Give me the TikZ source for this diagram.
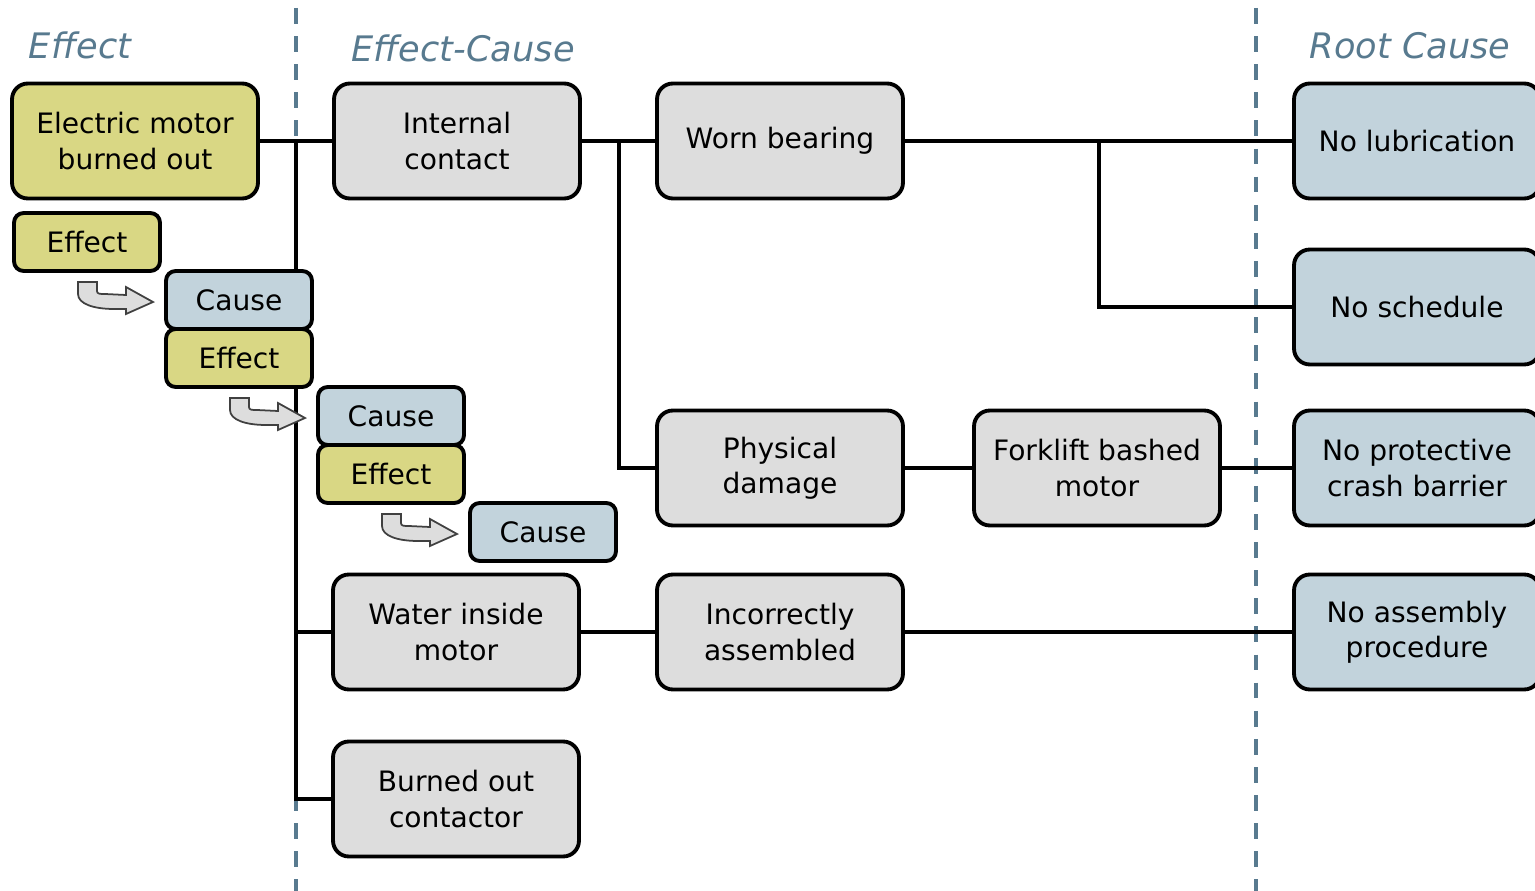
\documentclass[tikz,border=0pt]{standalone}
\usepackage{fontspec}
\setmainfont{DejaVu Sans}
\definecolor{effectfill}{HTML}{D9D784}
\definecolor{causefill}{HTML}{C2D3DC}
\definecolor{stepfill}{HTML}{DDDDDD}
\definecolor{slate}{HTML}{587A8F}
\tikzset{
  box/.style={draw, line width=2.2pt, rounded corners=9pt, minimum width=4.92cm,
    minimum height=2.3cm, inner sep=0pt, align=center,
    font=\fontsize{16}{20}\selectfont},
  effectbox/.style={box, fill=effectfill},
  causebox/.style={box, fill=causefill},
  stepbox/.style={box, fill=stepfill},
  tag/.style={box, rounded corners=5.5pt, minimum width=2.92cm, minimum height=1.16cm},
  link/.style={line width=2pt},
  divider/.style={slate, line width=2pt, dash pattern=on 9pt off 7pt},
  heading/.style={slate, font=\fontsize{20}{24}\selectfont\itshape},
  turn/.pic={
    \draw[fill=stepfill, draw=black!75, line width=1pt]
      (0,0) -- (19,0) -- (19,9) .. controls (19,12) and (22,12) .. (27,12)
      -- (48,13) -- (48,5) -- (75,20) -- (48,32) -- (48,27) -- (36,27)
      .. controls (16,27) and (0,22) .. (0,12) -- cycle;
  }
}
\begin{document}
\begin{tikzpicture}[x=0.02cm, y=-0.02cm]
\useasboundingbox (0,0) rectangle (1535,891);
\clip (0,0) rectangle (1535,891);

% column dividers
\draw[divider] (296,8) -- (296,891);
\draw[divider] (1256,8) -- (1256,891);

\node[heading] (hEffect) at (80,45) {Effect};
\node[heading] (hEffectCause) at (463,48) {Effect-Cause};
\node[heading] (hRoot) at (1410,46) {Root Cause};

% branch points
\coordinate (jA) at (296,141);
\coordinate (jB) at (619,141);
\coordinate (jC) at (1099,141);

\node[effectbox] (motor) at (135,141) {Electric motor\\burned out};
\node[stepbox] (internal) at (457,141) {Internal\\contact};
\node[stepbox] (bearing) at (780,141) {Worn bearing};
\node[causebox] (lube) at (1417,141) {No lubrication};
\node[causebox] (schedule) at (1417,307) {No schedule};
\node[stepbox] (physical) at (780,468) {Physical\\damage};
\node[stepbox] (forklift) at (1097,468) {Forklift bashed\\motor};
\node[causebox] (barrier) at (1417,468) {No protective\\crash barrier};
\node[stepbox] (water) at (456,632) {Water inside\\motor};
\node[stepbox] (assembled) at (780,632) {Incorrectly\\assembled};
\node[causebox] (procedure) at (1417,632) {No assembly\\procedure};
\node[stepbox] (contactor) at (456,799) {Burned out\\contactor};

\draw[link] (motor) -- (internal);
\draw[link] (jA) |- (contactor.west);
\draw[link] (jA) |- (water.west);
\draw[link] (internal) -- (bearing);
\draw[link] (jB) |- (physical.west);
\draw[link] (bearing) -- (lube);
\draw[link] (jC) |- (schedule.west);
\draw[link] (physical) -- (forklift) -- (barrier);
\draw[link] (water) -- (assembled) -- (procedure);

% effect / cause chain
\node[tag, fill=effectfill] (eff0) at (87,242) {Effect};
\node[tag, fill=causefill] (cau1) at (239,300) {Cause};
\node[tag, fill=effectfill] (eff1) at (239,358) {Effect};
\node[tag, fill=causefill] (cau2) at (391,416) {Cause};
\node[tag, fill=effectfill] (eff2) at (391,474) {Effect};
\node[tag, fill=causefill] (cau3) at (543,532) {Cause};

\pic at (78,282) {turn};
\pic at (230,398) {turn};
\pic at (382,514) {turn};
\end{tikzpicture}
\end{document}
